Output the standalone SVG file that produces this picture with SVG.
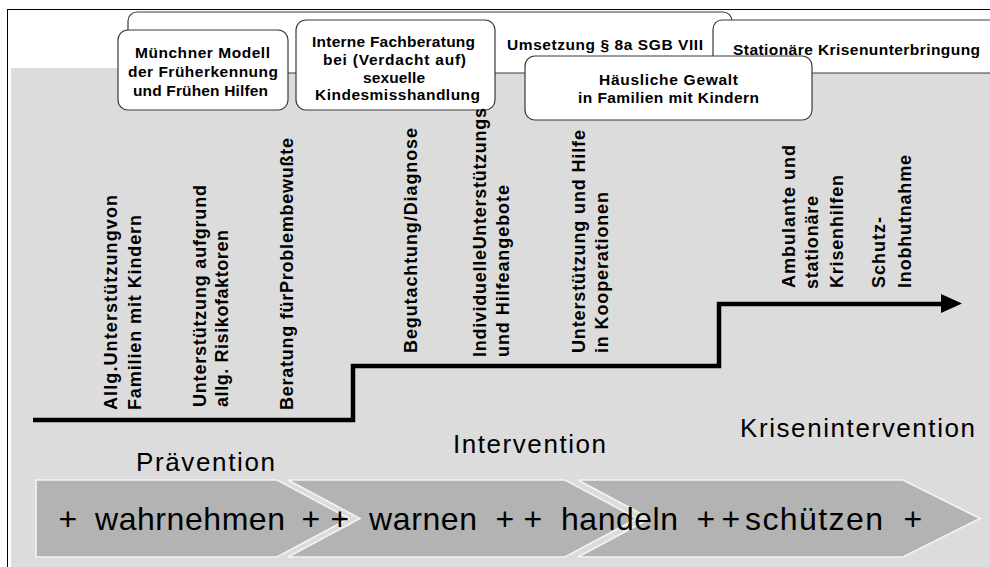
<svg xmlns="http://www.w3.org/2000/svg" width="990" height="567" viewBox="0 0 990 567">
  <defs>
    <style>
      .box { fill: #ffffff; stroke: #3a3a3a; stroke-width: 1.2; }
      .bt { font-family: "Liberation Sans", Arial, sans-serif; font-weight: bold; font-size: 15.5px; fill: #000; }
      .vt { font-family: "Liberation Sans", Arial, sans-serif; font-weight: bold; font-size: 18px; fill: #000; }
      .phase { font-family: "Liberation Sans", Arial, sans-serif; font-size: 26px; fill: #000; }
      .chev { fill: #b3b3b3; stroke: #f4f4f4; stroke-width: 1.6; }
      .ct { font-family: "Liberation Sans", Arial, sans-serif; font-size: 32px; fill: #000; }
      .step { fill: none; stroke: #000; stroke-width: 4.5; stroke-linejoin: miter; }
    </style>
    <marker id="arrow" markerUnits="userSpaceOnUse" markerWidth="22" markerHeight="20" refX="2" refY="10" orient="auto">
      <path d="M0,0 L21,9.5 L0,19 Z" fill="#000"/>
    </marker>
  </defs>

  <!-- background -->
  <rect x="7.5" y="9.5" width="990" height="570" fill="#ffffff" stroke="#000" stroke-width="1"/>
  <rect x="11" y="68" width="990" height="510" fill="#dcdcdc"/>

  <!-- top boxes -->
  <g id="umsetzung">
    <rect class="box" x="128" y="12" width="604" height="61" rx="9"/>
    <text class="bt" x="507" y="50" textLength="196" lengthAdjust="spacing">Umsetzung § 8a SGB VIII</text>
  </g>
  <g id="stationaere-krisenunterbringung">
    <rect class="box" x="713" y="20" width="300" height="53" rx="9"/>
    <text class="bt" x="733" y="55" textLength="247" lengthAdjust="spacing">Stationäre Krisenunterbringung</text>
  </g>
  <g id="muenchner-modell">
    <rect class="box" x="118" y="30" width="170" height="80" rx="10"/>
    <text class="bt" x="135" y="58" textLength="135" lengthAdjust="spacing">Münchner Modell</text>
    <text class="bt" x="128" y="77" textLength="150" lengthAdjust="spacing">der Früherkennung</text>
    <text class="bt" x="133" y="96" textLength="135" lengthAdjust="spacing">und Frühen Hilfen</text>
  </g>
  <g id="interne-fachberatung">
    <rect class="box" x="296" y="20" width="199" height="90" rx="10"/>
    <text class="bt" x="312" y="47" textLength="163" lengthAdjust="spacing">Interne Fachberatung</text>
    <text class="bt" x="323" y="65" textLength="143" lengthAdjust="spacing">bei (Verdacht auf)</text>
    <text class="bt" x="363" y="82.5" textLength="62" lengthAdjust="spacing">sexuelle</text>
    <text class="bt" x="315" y="99.5" textLength="165" lengthAdjust="spacing">Kindesmisshandlung</text>
  </g>
  <g id="haeusliche-gewalt">
    <rect class="box" x="525" y="56" width="287" height="64" rx="10"/>
    <text class="bt" x="599" y="85" textLength="139" lengthAdjust="spacing">Häusliche Gewalt</text>
    <text class="bt" x="578" y="103" textLength="181" lengthAdjust="spacing">in Familien mit Kindern</text>
  </g>

  <!-- connectors: step arrow -->
  <g id="connectors">
    <polyline class="step" points="33,420 353,420 353,366 719,366 719,304 943,304" marker-end="url(#arrow)"/>
  </g>

  <!-- vertical labels -->
  <g id="praevention-labels">
    <text class="vt" transform="translate(117,410) rotate(-90)" textLength="215" lengthAdjust="spacing">Allg.Unterstützungvon</text>
    <text class="vt" transform="translate(141,410) rotate(-90)" textLength="195" lengthAdjust="spacing">Familien mit Kindern</text>
    <text class="vt" transform="translate(206,407) rotate(-90)" textLength="222" lengthAdjust="spacing">Unterstützung aufgrund</text>
    <text class="vt" transform="translate(228,407) rotate(-90)" textLength="177" lengthAdjust="spacing">allg. Risikofaktoren</text>
    <text class="vt" transform="translate(293,410) rotate(-90)" textLength="272" lengthAdjust="spacing">Beratung fürProblembewußte</text>
  </g>
  <g id="intervention-labels">
    <text class="vt" transform="translate(417,353) rotate(-90)" textLength="225" lengthAdjust="spacing">Begutachtung/Diagnose</text>
    <text class="vt" transform="translate(486,357) rotate(-90)" textLength="249" lengthAdjust="spacing">IndividuelleUnterstützungs</text>
    <text class="vt" transform="translate(509,357) rotate(-90)" textLength="172" lengthAdjust="spacing">und Hilfeangebote</text>
    <text class="vt" transform="translate(585,353) rotate(-90)" textLength="223" lengthAdjust="spacing">Unterstützung und Hilfe</text>
    <text class="vt" transform="translate(608,353) rotate(-90)" textLength="161" lengthAdjust="spacing">in Kooperationen</text>
  </g>
  <g id="krisen-labels">
    <text class="vt" transform="translate(795,288) rotate(-90)" textLength="143" lengthAdjust="spacing">Ambulante und</text>
    <text class="vt" transform="translate(818,289) rotate(-90)" textLength="93" lengthAdjust="spacing">stationäre</text>
    <text class="vt" transform="translate(843,288) rotate(-90)" textLength="113" lengthAdjust="spacing">Krisenhilfen</text>
    <text class="vt" transform="translate(885,288) rotate(-90)" textLength="71" lengthAdjust="spacing">Schutz-</text>
    <text class="vt" transform="translate(911,288) rotate(-90)" textLength="133" lengthAdjust="spacing">Inobhutnahme</text>
  </g>

  <!-- phase labels -->
  <g id="phases">
    <text class="phase" x="136" y="471" textLength="139" lengthAdjust="spacing">Prävention</text>
    <text class="phase" x="453" y="453" textLength="153" lengthAdjust="spacing">Intervention</text>
    <text class="phase" x="740" y="437" textLength="235" lengthAdjust="spacing">Krisenintervention</text>
  </g>

  <!-- chevrons -->
  <g id="chevron-wahrnehmen">
    <polygon class="chev" points="36,480 277,480 349,518.5 277,557 36,557"/>
  </g>
  <g id="chevron-warnen-handeln">
    <polygon class="chev" points="288,480 565,480 637,518.5 565,557 288,557 360,518.5"/>
  </g>
  <g id="chevron-schuetzen">
    <polygon class="chev" points="578,480 903,480 980,518.5 903,557 578,557 650,518.5"/>
  </g>
  <g id="chevron-texts">
    <text class="ct" x="58.5" y="530">+</text>
    <text class="ct" x="95" y="530" textLength="190" lengthAdjust="spacing">wahrnehmen</text>
    <text class="ct" x="301.5" y="530">+</text>
    <text class="ct" x="330.5" y="530">+</text>
    <text class="ct" x="369" y="530" textLength="108" lengthAdjust="spacing">warnen</text>
    <text class="ct" x="495.5" y="530">+</text>
    <text class="ct" x="523.5" y="530">+</text>
    <text class="ct" x="561" y="530" textLength="117" lengthAdjust="spacing">handeln</text>
    <text class="ct" x="696.5" y="530">+</text>
    <text class="ct" x="721.5" y="530">+</text>
    <text class="ct" x="745" y="530" textLength="138" lengthAdjust="spacing">schützen</text>
    <text class="ct" x="903.5" y="530">+</text>
  </g>
</svg>
